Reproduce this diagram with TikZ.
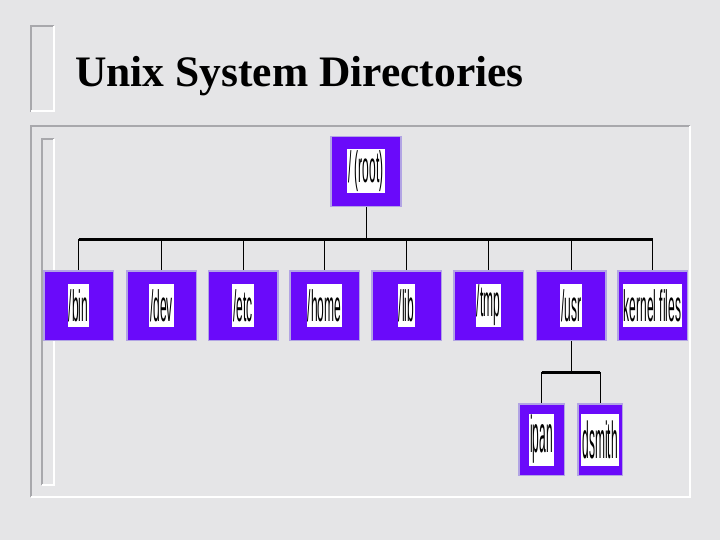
\documentclass[tikz,border=0pt]{standalone}
\usepackage{fontspec}
\setmainfont{Liberation Serif}
\newfontfamily\lblfont{Liberation Sans}
\usepackage{graphicx}
\definecolor{dirpurple}{RGB}{106,10,250}
\definecolor{dirrim}{RGB}{178,164,228}
\definecolor{marble}{RGB}{229,229,231}
\definecolor{edgegray}{RGB}{168,168,172}
\newcommand\dirtext[1]{\scalebox{0.6}[2.2]{\lblfont\fontsize{20}{20}\selectfont #1}}
\newcommand\subtext[1]{\scalebox{0.6}[2.6]{\lblfont\fontsize{20}{20}\selectfont #1}}
\tikzset{
  dirbox/.style={rectangle, fill=dirpurple, draw=dirrim, line width=1.5pt,
    minimum width=69.5pt, minimum height=69.5pt, inner sep=0pt},
  subbox/.style={dirbox, minimum height=71.5pt},
  dirlabel/.style={rectangle, fill=white, inner xsep=1pt, inner ysep=0pt,
    minimum height=43pt},
  sublabel/.style={dirlabel, minimum height=52pt},
  conn/.style={black, line width=1pt},
  bus/.style={black, line width=3pt},
  bevdark/.style={edgegray, line width=2.5pt},
  bevlight/.style={white, line width=2pt}
}
\begin{document}
\begin{tikzpicture}[x=1pt,y=-1pt]
\useasboundingbox (0,0) rectangle (720,540);
\fill[marble] (0,0) rectangle (720,540);
% title bar decoration
\draw[bevdark] (31,112) -- (31,26) -- (54,26);
\draw[bevlight] (54,26) -- (54,111) -- (31,111);
% content frame
\draw[bevdark] (31,497) -- (31,126) -- (690,126);
\draw[bevlight] (690,126) -- (690,497) -- (31,497);
% inner side bar
\draw[bevdark] (42,485) -- (42,139) -- (54,139);
\draw[bevlight] (54,139) -- (54,485) -- (42,485);
% title
\node[anchor=base west, inner sep=0pt, font=\fontsize{43.5}{50}\selectfont\bfseries] (title) at (75,87) {Unix System Directories};
% root
\node[dirbox, minimum width=70pt, minimum height=70pt] (root) at (366,171.5) {};
\node[dirlabel, minimum height=44pt] (rootl) at (root) {\dirtext{/ (root)}};
% children
\foreach \n/\x/\t in {bin/78.5/{/bin}, dev/161.5/{/dev}, etc/243/{/etc}, home/324.5/{/home}, lib/406.5/{/lib}, tmp/488.5/{/tmp}, usr/571/{/usr}, kernel/652.5/{kernel files}}{
  \node[dirbox] (\n) at (\x,305.5) {};
  \node[dirlabel] (\n l) at (\n) {\dirtext{\t}};
}
% sub-children of /usr
\node[subbox, minimum width=45.5pt] (ipan) at (541.5,439.5) {};
\node[sublabel] (ipanl) at (ipan) {\subtext{ipan}};
\node[subbox, minimum width=44.5pt] (dsmith) at (600,439.5) {};
\node[sublabel] (dsmithl) at (dsmith) {\subtext{dsmith}};
% connectors
\coordinate (busL) at (78.5,239);
\coordinate (busR) at (652.5,239);
\draw[conn] (root.south) -- (root.south |- busL);
\draw[bus] (busL) -- (busR);
\foreach \n in {bin,dev,etc,home,lib,tmp,usr,kernel}{
  \draw[conn] (\n.north) -- (\n.north |- busL);
}
\coordinate (subL) at (541.5,372);
\coordinate (subR) at (600,372);
\draw[conn] (usr.south) -- (usr.south |- subL);
\draw[bus] (subL) -- (subR);
\draw[conn] (ipan.north) -- (ipan.north |- subL);
\draw[conn] (dsmith.north) -- (dsmith.north |- subL);
\end{tikzpicture}
\end{document}
